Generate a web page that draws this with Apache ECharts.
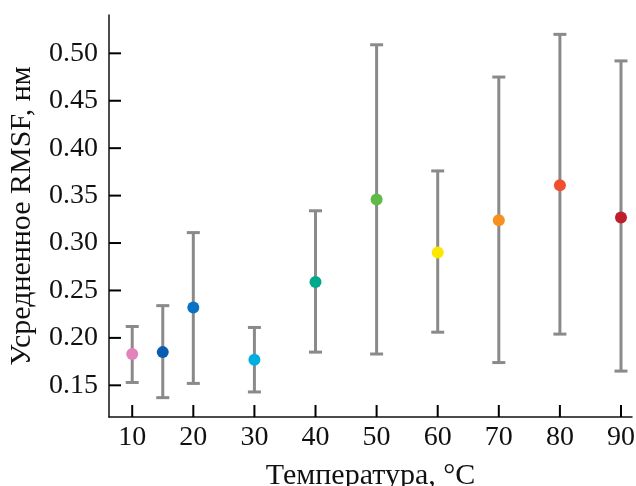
<!DOCTYPE html>
<html>
<head>
<meta charset="utf-8">
<script src="https://cdn.jsdelivr.net/npm/echarts@6/dist/echarts.min.js"></script>
<style>
html, body { margin: 0; padding: 0; background: #fff; }
#chart { width: 636px; height: 486px; }
</style>
</head>
<body>
<div id="chart"></div>
<script>
// температура, °C
var temps = [10, 15, 20, 30, 40, 50, 60, 70, 80, 90];
// среднее RMSF, нм
var means = [0.183, 0.185, 0.232, 0.177, 0.259, 0.346, 0.290, 0.324, 0.361, 0.327];
var lows = [0.153, 0.137, 0.152, 0.143, 0.185, 0.183, 0.206, 0.174, 0.204, 0.165];
var highs = [0.212, 0.234, 0.311, 0.211, 0.334, 0.509, 0.376, 0.475, 0.520, 0.492];
var colors = ['#e283bd', '#0a5cb0', '#0a72c4', '#00aee0', '#00a98c', '#5dbb46', '#fde700', '#f7901e', '#f04e2f', '#be1e2d'];
var xTicks = [10, 20, 30, 40, 50, 60, 70, 80, 90];
var yTicks = [0.15, 0.20, 0.25, 0.30, 0.35, 0.40, 0.45, 0.50];

var font = 'Liberation Serif';
var xMin = 6.2, xMax = 91.8, yMin = 0.1166, yMax = 0.5404;

var errData = [];
var ptData = [];
for (var i = 0; i < temps.length; i++) {
	errData.push([temps[i], lows[i], highs[i]]);
	ptData.push({ value: [temps[i], means[i]], itemStyle: { color: colors[i], opacity: 1 } });
}

var chart = echarts.init(document.getElementById('chart'));
chart.setOption({
	animation: false,
	grid: { left: 109, right: 4, top: 15, bottom: 69, containLabel: false, outerBoundsMode: 'none' },
	xAxis: {
		type: 'value',
		min: xMin,
		max: xMax,
		name: 'Температура, °C',
		nameLocation: 'middle',
		nameGap: 44,
		nameTextStyle: { fontFamily: font, fontSize: 30, color: '#111' },
		axisLine: { show: true, lineStyle: { color: '#111', width: 1.5 } },
		axisTick: { show: false },
		axisLabel: { fontFamily: font, fontSize: 28, color: '#111', margin: 7, customValues: xTicks },
		splitLine: { show: false }
	},
	yAxis: {
		type: 'value',
		min: yMin,
		max: yMax,
		name: 'Усредненное RMSF, нм',
		nameLocation: 'middle',
		nameRotate: 90,
		nameGap: 72,
		nameTextStyle: { fontFamily: font, fontSize: 30, color: '#111' },
		axisLine: { show: true, lineStyle: { color: '#111', width: 1.5 } },
		axisTick: { show: false },
		axisLabel: {
			fontFamily: font, fontSize: 28, color: '#111', margin: 11, customValues: yTicks,
			formatter: function (v) { return v.toFixed(2); }
		},
		splitLine: { show: false }
	},
	series: [
		{
			type: 'custom',
			data: errData,
			renderItem: function (params, api) {
				var x = api.value(0);
				var top = api.coord([x, api.value(2)]);
				var bot = api.coord([x, api.value(1)]);
				var hw = 6.5;
				var st = { stroke: '#8a8a8a', lineWidth: 3 };
				return {
					type: 'group',
					children: [
						{ type: 'line', shape: { x1: top[0], y1: top[1], x2: bot[0], y2: bot[1] }, style: st },
						{ type: 'line', shape: { x1: top[0] - hw, y1: top[1], x2: top[0] + hw, y2: top[1] }, style: st },
						{ type: 'line', shape: { x1: bot[0] - hw, y1: bot[1], x2: bot[0] + hw, y2: bot[1] }, style: st }
					]
				};
			},
			z: 2
		},
		{
			type: 'scatter',
			data: ptData,
			symbolSize: 12,
			z: 3
		}
	]
});

// засечки внутрь — через шкалы осей
var ticks = [];
var tickStyle = { stroke: '#000', lineWidth: 2 };
xTicks.forEach(function (v) {
	var p = chart.convertToPixel({ gridIndex: 0 }, [v, yMin]);
	ticks.push({ type: 'line', shape: { x1: p[0], y1: p[1], x2: p[0], y2: p[1] - 12 }, style: tickStyle, z: 10 });
});
yTicks.forEach(function (v) {
	var p = chart.convertToPixel({ gridIndex: 0 }, [xMin, v]);
	ticks.push({ type: 'line', shape: { x1: p[0], y1: p[1], x2: p[0] + 12, y2: p[1] }, style: tickStyle, z: 10 });
});
chart.setOption({ graphic: ticks });
</script>
</body>
</html>
